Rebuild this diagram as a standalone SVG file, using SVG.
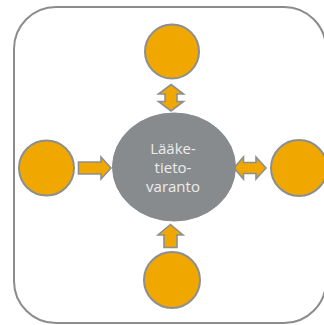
<svg xmlns="http://www.w3.org/2000/svg" width="324" height="325" viewBox="0 0 324 325">
  <style>
    .frame { fill: #ffffff; stroke: #8c8c8c; stroke-width: 2; }
    .node { fill: #f0a800; stroke: #8c8f91; stroke-width: 2; }
    .hub { fill: #888b8d; stroke: #888b8d; stroke-width: 1; }
    .arrow { fill: #f0a800; stroke: #8c8f91; stroke-width: 1.6; stroke-linejoin: miter; }
    .label { font-family: "Open Sans", "Noto Sans", sans-serif; font-size: 15px; fill: #ececec; text-anchor: middle; }
  </style>
  <rect width="324" height="325" fill="#ffffff"/>
  <rect class="frame" x="14" y="7" width="312" height="316" rx="42" ry="42"/>

  <g id="connectors">
    <!-- top: two-way -->
    <polygon class="arrow" points="171,84.5 183.5,94 177,94 177,101.5 183.5,101.5 171,111 158.5,101.5 165,101.5 165,94 158.5,94"/>
    <!-- left: into hub -->
    <polygon class="arrow" points="78.5,162 101,162 101,157 111,168 101,179 101,174 78.5,174"/>
    <!-- right: two-way -->
    <polygon class="arrow" points="234,168 243.5,157 243.5,162.5 256,162.5 256,157 266,168 256,179 256,173.5 243.5,173.5 243.5,179"/>
    <!-- bottom: into hub -->
    <polygon class="arrow" points="170.5,224.5 183,235 177,235 177,247.5 164,247.5 164,235 158,235"/>
  </g>

  <g id="node-top"><circle class="node" cx="172" cy="51.5" r="27"/></g>
  <g id="node-left"><circle class="node" cx="46.5" cy="168" r="27.5"/></g>
  <g id="node-right"><circle class="node" cx="299" cy="168" r="28"/></g>
  <g id="node-bottom"><circle class="node" cx="172" cy="280" r="28"/></g>

  <g id="hub">
    <ellipse class="hub" cx="174" cy="167" rx="61.5" ry="54"/>
    <text class="label" x="173" y="153.5">Lääke-</text>
    <text class="label" x="173" y="172.7">tieto-</text>
    <text class="label" x="173" y="191.8">varanto</text>
  </g>
</svg>
